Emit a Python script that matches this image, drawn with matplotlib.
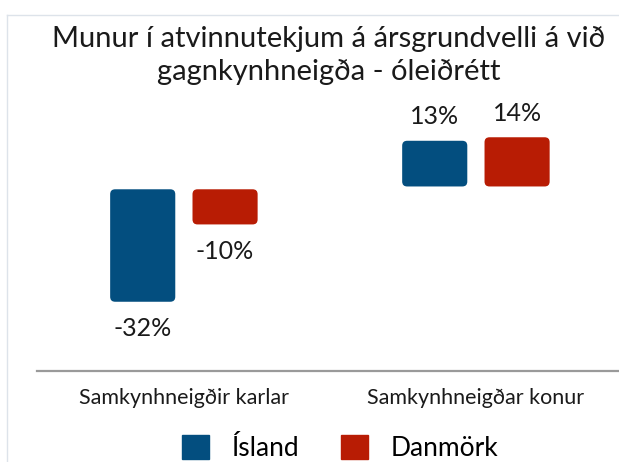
import numpy as np
import matplotlib.pyplot as plt
from matplotlib.patches import FancyBboxPatch, Patch
from matplotlib.lines import Line2D

# Gögn
categories = ['Samkynhneigðir karlar', 'Samkynhneigðar konur']
series = ['Ísland', 'Danmörk']
island = [-32, 13]
danmork = [-10, 14]
colors = ['#034E7F', '#B81C04']
title = 'Munur í atvinnutekjum á ársgrundvelli á við\ngagnkynhneigða - óleiðrétt'

plt.rcParams['font.family'] = ['Lato', 'DejaVu Sans']

W, H = 619, 462
fig = plt.figure(figsize=(W / 100, H / 100), dpi=100)
ax = fig.add_axes([37 / W, 1 - 371 / H, (W - 37) / W, (371 - 100) / H])

x = np.arange(len(categories))
width = 0.223
offset = 0.141
gap = 0.4

for i, (vals, col) in enumerate(zip([island, danmork], colors)):
    vals = np.array(vals, dtype=float)
    bottoms = np.sign(vals) * gap
    bars = ax.bar(x + (2 * i - 1) * offset, vals, width, bottom=bottoms, color=col)
    for rect, v in zip(bars, vals):
        # skipta út fyrir ávalar stoðir
        rect.set_visible(False)
        y0 = min(rect.get_y(), rect.get_y() + rect.get_height())
        h = abs(rect.get_height())
        fb = FancyBboxPatch((rect.get_x(), y0), rect.get_width(), h,
                            boxstyle='round,pad=0,rounding_size=0.017',
                            mutation_aspect=83, facecolor=col, edgecolor='none')
        ax.add_patch(fb)
        cx = rect.get_x() + rect.get_width() / 2
        if v < 0:
            ax.annotate(f'{int(v)}%', (cx, y0), xytext=(0, -27), textcoords='offset pixels',
                        ha='center', va='center', fontsize=18, color='#1a1a1a')
        else:
            ax.annotate(f'{int(v)}%', (cx, y0 + h), xytext=(0, 24), textcoords='offset pixels',
                        ha='center', va='center', fontsize=18, color='#1a1a1a')

ax.set_ylim(-52.1, 25)
ax.set_xlim(-0.503, 1.49)
for s in ['top', 'left', 'right']:
    ax.spines[s].set_visible(False)
ax.spines['bottom'].set_color('#9a9a9a')
ax.spines['bottom'].set_linewidth(1.6)
ax.set_yticks([])
ax.set_xticks(x, categories)
ax.tick_params(axis='x', length=0, pad=12, labelsize=15.5, labelcolor='#1a1a1a')

fig.text(329 / W, 1 - 26 / H, title, ha='center', va='top', fontsize=21,
         color='#1a1a1a', linespacing=1.3)

handles = [Patch(color=c) for c in colors]
fig.legend(handles, series, ncol=2, loc='upper center', bbox_to_anchor=(340 / W, 1 - 422 / H),
           frameon=False, fontsize=19, handlelength=1.03, handleheight=1.03,
           handletextpad=0.83, columnspacing=1.6, borderpad=0)

# rammi
fig.add_artist(Line2D([7 / W, 7 / W], [0, 1 - 15 / H], color='#dde3ea', lw=1))
fig.add_artist(Line2D([7 / W, 1], [1 - 15 / H, 1 - 15 / H], color='#dde3ea', lw=1))

fig.savefig('out.png', dpi=100)
